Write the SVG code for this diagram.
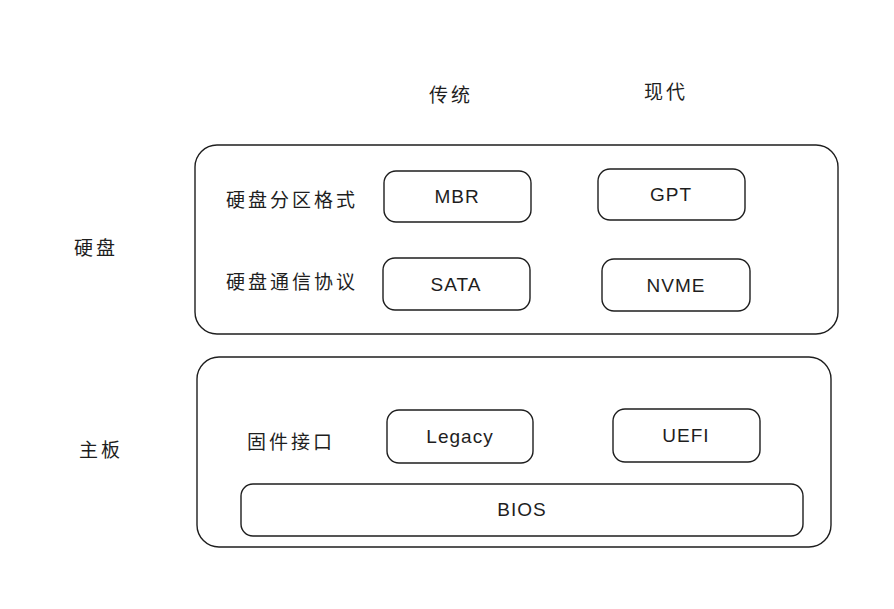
<svg xmlns="http://www.w3.org/2000/svg" width="894" height="609" viewBox="0 0 894 609">
<style>
.box{fill:none;stroke:#1e1e1e;stroke-width:1.4}
.zh{font-family:"Noto Sans CJK SC","Noto Sans CJK JP",sans-serif;font-size:19px;fill:#1e1e1e;letter-spacing:3px}
.en{font-family:"Liberation Sans","DejaVu Sans",sans-serif;font-size:19px;fill:#1e1e1e;text-anchor:middle;letter-spacing:1px}
</style>
<rect width="894" height="609" fill="#ffffff"/>
<g id="header">
<text class="zh" x="429" y="102">传统</text>
<text class="zh" x="644" y="99">现代</text>
</g>
<g id="labels">
<text class="zh" x="74" y="255">硬盘</text>
<text class="zh" x="79" y="457">主板</text>
</g>
<g id="disk">
<rect class="box" x="195" y="145" width="643" height="189" rx="22"/>
<text class="zh" x="226" y="207">硬盘分区格式</text>
<text class="zh" x="226" y="289">硬盘通信协议</text>
</g>
<g id="mbr"><rect class="box" x="384" y="171" width="147" height="51" rx="12"/><text class="en" x="457" y="203">MBR</text></g>
<g id="gpt"><rect class="box" x="598" y="169" width="147" height="51" rx="12"/><text class="en" x="671" y="201">GPT</text></g>
<g id="sata"><rect class="box" x="383" y="258" width="147" height="52" rx="12"/><text class="en" x="456" y="291">SATA</text></g>
<g id="nvme"><rect class="box" x="602" y="259" width="148" height="52" rx="12"/><text class="en" x="676" y="292">NVME</text></g>
<g id="board">
<rect class="box" x="197" y="357" width="634" height="190" rx="22"/>
<text class="zh" x="247" y="449">固件接口</text>
</g>
<g id="legacy"><rect class="box" x="387" y="410" width="146" height="53" rx="12"/><text class="en" x="460" y="443">Legacy</text></g>
<g id="uefi"><rect class="box" x="613" y="409" width="147" height="53" rx="12"/><text class="en" x="686" y="442">UEFI</text></g>
<g id="bios"><rect class="box" x="241" y="484" width="562" height="52" rx="12"/><text class="en" x="522" y="516">BIOS</text></g>
<g id="connectors"></g>
</svg>
